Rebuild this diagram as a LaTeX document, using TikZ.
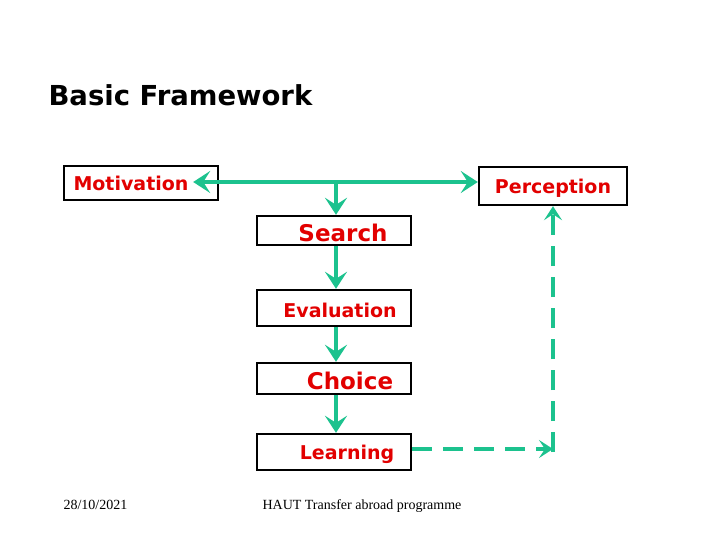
\documentclass[tikz,border=0pt]{standalone}
\usepackage{fontspec}
\setmainfont{Liberation Serif}
\newfontfamily\boxfont{DejaVu Sans}
\usetikzlibrary{arrows.meta}
\definecolor{flowgreen}{RGB}{28,194,142}
\definecolor{labelred}{RGB}{226,0,0}
\begin{document}
\begin{tikzpicture}[x=1pt,y=-1pt,
  box/.style={draw,line width=2.4pt,fill=white,minimum width=154pt,minimum height=30pt,inner sep=0pt},
  lbl/.style={text=labelred,yshift=-2pt,font=\boxfont\bfseries\fontsize{19}{22}\selectfont},
  biglbl/.style={lbl,font=\boxfont\bfseries\fontsize{23}{26}\selectfont},
  head/.tip={Stealth[length=17pt,width=22pt,inset=7pt]},
  smallhead/.tip={Stealth[length=14pt,width=18pt,inset=6pt]},
  flow/.style={draw=flowgreen,line width=4pt,-head},
  feedback/.style={draw=flowgreen,line width=3.5pt,dash pattern=on 20pt off 11pt,-smallhead}]
\useasboundingbox (0,0) rectangle (720,540);
\node[anchor=base west,font=\boxfont\bfseries\fontsize{27.5}{32}\selectfont] (title) at (45,106) {Basic Framework};
\node[box,minimum height=34pt,label={[lbl,xshift=-10pt,yshift=2pt]center:Motivation}] (motivation) at (141,183) {};
\node[box,minimum width=148pt,minimum height=38pt,label={[lbl]center:Perception}] (perception) at (553,186) {};
\node[box,minimum height=29pt,label={[biglbl,xshift=9pt]center:Search}] (search) at (334,230.5) {};
\node[box,minimum height=36pt,label={[lbl,xshift=6pt]center:Evaluation}] (evaluation) at (334,308) {};
\node[box,minimum height=31pt,label={[biglbl,xshift=16pt]center:Choice}] (choice) at (334,378.5) {};
\node[box,minimum height=36pt,label={[lbl,xshift=13pt]center:Learning}] (learning) at (334,452) {};
\coordinate (split) at (336,182);
\coordinate (corner) at (553,449);
\draw[flow,head-head] ([xshift=-26pt]motivation.east |- split) -- (perception.west |- split);
\draw[flow] (split) -- (split |- search.north);
\draw[flow] ([xshift=2pt]search.south) -- ([xshift=2pt]evaluation.north);
\draw[flow] ([xshift=2pt]evaluation.south) -- ([xshift=2pt]choice.north);
\draw[flow] ([xshift=2pt]choice.south) -- ([xshift=2pt]learning.north);
\draw[feedback] (learning.east |- corner) -- (corner);
\draw[feedback] ([yshift=-3pt]corner) -- (perception.south);
\node[anchor=base west,font=\fontsize{14}{16}\selectfont] (date) at (60,509) {28/10/2021};
\node[anchor=base west,font=\fontsize{14}{16}\selectfont] (footer) at (259,509) {HAUT Transfer abroad programme};
\end{tikzpicture}
\end{document}
